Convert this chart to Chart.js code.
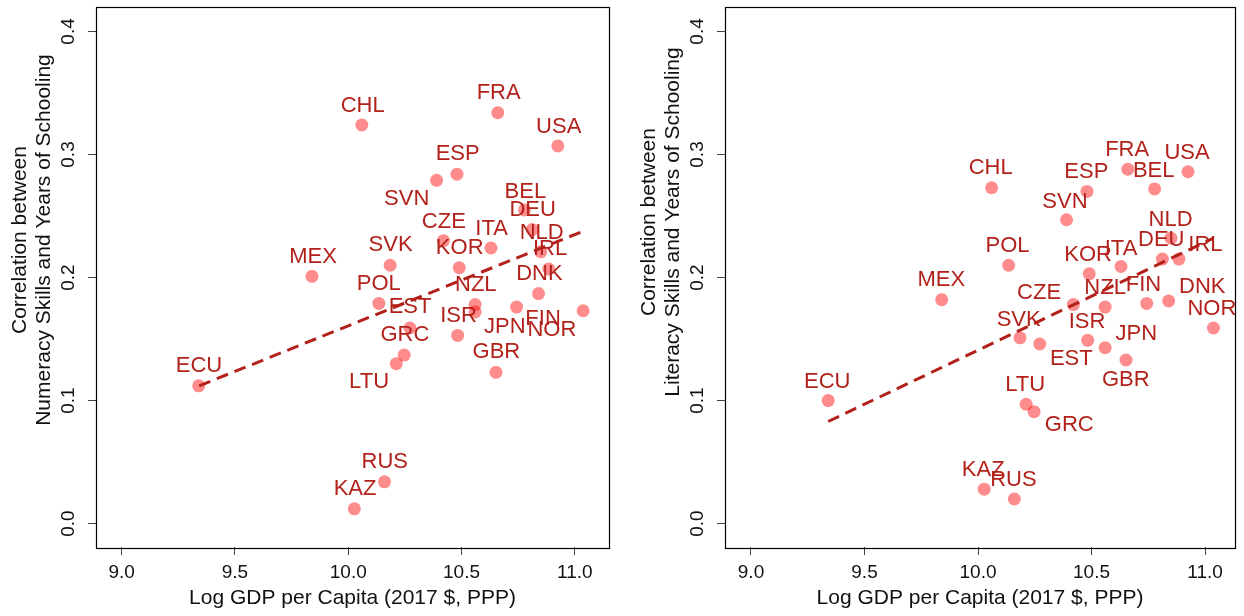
<!DOCTYPE html>
<html>
<head>
<meta charset="utf-8">
<script src="https://cdn.jsdelivr.net/npm/chart.js@4.4.1/dist/chart.umd.min.js"></script>
<style>
  html, body { margin: 0; padding: 0; background: #fff; }
  #wrap { position: relative; width: 1244px; height: 616px; background: #fff; }
  canvas { position: absolute; top: 0; }
</style>
</head>
<body>
<div id="wrap">
  <canvas id="numeracy" width="622" height="616" style="left:0px"></canvas>
  <canvas id="literacy" width="622" height="616" style="left:622px"></canvas>
</div>
<script>
// ---------- data ----------
const countries = ['ECU','MEX','KAZ','CHL','RUS','POL','SVK','LTU','GRC','EST','SVN','CZE','ESP','ISR','KOR',
                   'NZL','JPN','ITA','GBR','FRA','FIN','BEL','DEU','DNK','NLD','IRL','USA','NOR'];
const logGdp = [9.34, 9.84, 10.027, 10.06, 10.16, 10.135, 10.185, 10.212, 10.247, 10.272, 10.39, 10.42, 10.48, 10.483, 10.49,
                10.56, 10.56, 10.63, 10.652, 10.66, 10.743, 10.778, 10.812, 10.84, 10.85, 10.885, 10.925, 11.037];
const numeracyCorr = [0.112, 0.201, 0.012, 0.324, 0.034, 0.179, 0.210, 0.130, 0.137, 0.159, 0.279, 0.230, 0.284, 0.153, 0.208,
                      0.178, 0.172, 0.224, 0.123, 0.334, 0.176, 0.255, 0.239, 0.187, 0.221, 0.207, 0.307, 0.173];
const literacyCorr = [0.100, 0.182, 0.028, 0.273, 0.020, 0.210, 0.151, 0.097, 0.091, 0.146, 0.247, 0.178, 0.270, 0.149, 0.203,
                      0.176, 0.143, 0.209, 0.133, 0.288, 0.179, 0.272, 0.215, 0.181, 0.232, 0.215, 0.286, 0.159];
// label anchor points (data units) as placed in the reference
const numeracyLabelX = [9.341, 9.845, 10.030, 10.064, 10.161, 10.135, 10.187, 10.092, 10.250, 10.273, 10.258, 10.422, 10.483, 10.487, 10.492,
                        10.563, 10.691, 10.633, 10.654, 10.664, 10.860, 10.782, 10.814, 10.844, 10.854, 10.891, 10.929, 10.899];
const numeracyLabelY = [0.128, 0.217, 0.0284, 0.3396, 0.0502, 0.1946, 0.2262, 0.1151, 0.1530, 0.1760, 0.2642, 0.2452, 0.3004, 0.1692, 0.2243,
                        0.1940, 0.1600, 0.2392, 0.1392, 0.3497, 0.1660, 0.2698, 0.2548, 0.2029, 0.2364, 0.2234, 0.3223, 0.1576];
const literacyLabelX = [9.336, 9.838, 10.023, 10.056, 10.156, 10.130, 10.179, 10.208, 10.402, 10.411, 10.383, 10.269, 10.477, 10.480, 10.485,
                        10.560, 10.697, 10.630, 10.651, 10.657, 10.729, 10.774, 10.807, 10.988, 10.848, 11.002, 10.921, 11.030];
const literacyLabelY = [0.1155, 0.1978, 0.0439, 0.2887, 0.0355, 0.2255, 0.1656, 0.1127, 0.0800, 0.1341, 0.2616, 0.1878, 0.2857, 0.1638, 0.2185,
                        0.1913, 0.1540, 0.2235, 0.1165, 0.3038, 0.1944, 0.2867, 0.2308, 0.1927, 0.2468, 0.2261, 0.3014, 0.1746];
// fitted lines (end points)
const numeracyFitX = [9.342, 11.041];
const numeracyFitY = [0.112, 0.238];
const literacyFitX = [9.34, 11.037];
const literacyFitY = [0.083, 0.232];
// axes
const xTickValues = [9.0, 9.5, 10.0, 10.5, 11.0];
const yTickValues = [0.0, 0.1, 0.2, 0.3, 0.4];
const xTitle = 'Log GDP per Capita (2017 $, PPP)';
const numeracyYTitle = ['Correlation between', 'Numeracy Skills and Years of Schooling'];
const literacyYTitle = ['Correlation between', 'Literacy Skills and Years of Schooling'];

// ---------- styling ----------
const FONT = "'Liberation Sans', Arial, Helvetica, sans-serif";
const POINT_COLOR = 'rgba(255, 0, 0, 0.45)';
const TEXT_RED = '#B2221B';
const LINE_RED = '#B2221B';

function makePanel(id, values, labX, labY, fitX, fitY, yTitle, geom) {
  const pts = logGdp.map((g, i) => ({ x: g, y: values[i] }));
  const fit = fitX.map((x, i) => ({ x: x, y: fitY[i] }));
  const overlay = {
    id: 'overlay_' + id,
    afterDatasetsDraw(chart) {
      const ctx = chart.ctx;
      const xs = chart.scales.x, ys = chart.scales.y;
      ctx.save();
      ctx.fillStyle = TEXT_RED;
      ctx.font = '22px ' + FONT;
      ctx.textAlign = 'center';
      ctx.textBaseline = 'middle';
      countries.forEach((c, i) => {
        ctx.fillText(c, xs.getPixelForValue(labX[i]), ys.getPixelForValue(labY[i]));
      });
      ctx.restore();
    },
    afterDraw(chart) {
      const ctx = chart.ctx;
      const a = chart.chartArea;
      const ys = chart.scales.y;
      ctx.save();
      ctx.strokeStyle = '#000';
      ctx.lineWidth = 1.2;
      ctx.strokeRect(Math.round(a.left) + 0.5, Math.round(a.top) + 0.5,
                     Math.round(a.right - a.left), Math.round(a.bottom - a.top));
      ctx.fillStyle = '#111';
      ctx.font = '19px ' + FONT;
      ctx.textAlign = 'center';
      ctx.textBaseline = 'middle';
      yTickValues.forEach(v => {
        const y = ys.getPixelForValue(v);
        ctx.save();
        ctx.translate(a.left - geom.yLabelGap, y);
        ctx.rotate(-Math.PI / 2);
        ctx.fillText(v.toFixed(1), 0, 0);
        ctx.restore();
      });
      ctx.font = '21px ' + FONT;
      const cy = geom.yTitleCenter;
      yTitle.forEach((t, k) => {
        ctx.save();
        ctx.translate(a.left - geom.yTitleGaps[k], cy);
        ctx.rotate(-Math.PI / 2);
        ctx.fillText(t, 0, 0);
        ctx.restore();
      });
      ctx.restore();
    }
  };

  return new Chart(document.getElementById(id), {
    type: 'scatter',
    data: {
      datasets: [
        {
          type: 'line',
          data: fit,
          borderColor: LINE_RED,
          borderWidth: 3,
          borderDash: [12, 7],
          pointRadius: 0,
          fill: false,
          order: 0
        },
        {
          data: pts,
          backgroundColor: POINT_COLOR,
          borderWidth: 0,
          pointRadius: 6.5,
          pointHoverRadius: 6.5,
          order: 1
        }
      ]
    },
    options: {
      responsive: false,
      animation: false,
      devicePixelRatio: 1,
      layout: { padding: { left: 0, right: geom.padRight, top: 5, bottom: 0 } },
      plugins: { legend: { display: false }, tooltip: { enabled: false } },
      scales: {
        x: {
          type: 'linear',
          min: geom.xMin, max: geom.xMax,
          afterBuildTicks: s => { s.ticks = xTickValues.map(v => ({ value: v })); },
          afterFit: s => { s.height = 69; },
          grid: { drawOnChartArea: false, drawTicks: true, tickLength: 8, tickColor: '#444', tickWidth: 1 },
          border: { display: false },
          ticks: {
            color: '#111', padding: 6,
            font: { family: FONT, size: 19 },
            maxRotation: 0, autoSkip: false,
            callback: v => Number(v).toFixed(1)
          },
          title: {
            display: true, text: xTitle, color: '#111',
            font: { family: FONT, size: 21 },
            padding: { top: 0, bottom: 5 }
          }
        },
        y: {
          type: 'linear',
          min: -0.019, max: 0.4203,
          afterBuildTicks: s => { s.ticks = yTickValues.map(v => ({ value: v })); },
          afterFit: s => { s.width = geom.yAxisWidth; },
          grid: { drawOnChartArea: false, drawTicks: true, tickLength: 8, tickColor: '#444', tickWidth: 1 },
          border: { display: false },
          ticks: { display: false }
        }
      }
    },
    plugins: [overlay]
  });
}

makePanel('numeracy', numeracyCorr, numeracyLabelX, numeracyLabelY, numeracyFitX, numeracyFitY, numeracyYTitle,
  { xMin: 8.8866, xMax: 11.151, yAxisWidth: 96, padRight: 13, yLabelGap: 27, yTitleGaps: [76, 52], yTitleCenter: 240 });
makePanel('literacy', literacyCorr, literacyLabelX, literacyLabelY, literacyFitX, literacyFitY, literacyYTitle,
  { xMin: 8.8855, xMax: 11.132, yAxisWidth: 103, padRight: 9, yLabelGap: 27, yTitleGaps: [76, 52], yTitleCenter: 222 });
</script>
</body>
</html>
